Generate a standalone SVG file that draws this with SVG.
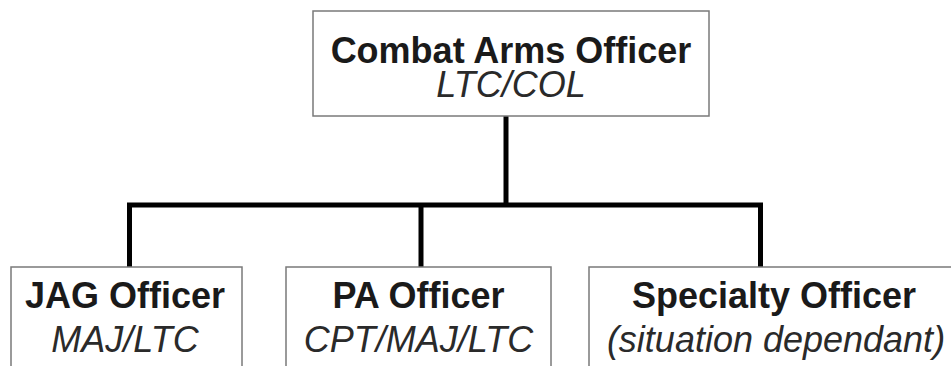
<svg xmlns="http://www.w3.org/2000/svg" width="951" height="366" viewBox="0 0 951 366">
<style>
.box{fill:#fff;stroke:#7a7a7a;stroke-width:1.5}
.t{font-family:"Liberation Sans",Arial,sans-serif;font-size:36px;text-anchor:middle;fill:#1a1a1a}
.b{font-weight:bold}
.i{font-style:italic;fill:#2a2a2a}
.c{stroke:#000;stroke-width:5;fill:none}
</style>
<rect width="951" height="366" fill="#fff"/>
<g id="connectors">
<path class="c" d="M506,116 V205"/>
<path class="c" d="M129.5,267 V205 H760.5 V267"/>
<path class="c" d="M421,205 V267"/>
</g>
<g id="combat">
<rect class="box" x="313" y="11" width="396" height="105"/>
<text class="t b" x="511" y="63">Combat Arms Officer</text>
<text class="t i" x="511" y="97">LTC/COL</text>
</g>
<g id="jag">
<rect class="box" x="11" y="267" width="231" height="110"/>
<text class="t b" x="125" y="308">JAG Officer</text>
<text class="t i" x="125" y="352">MAJ/LTC</text>
</g>
<g id="pa">
<rect class="box" x="286" y="267" width="265" height="110"/>
<text class="t b" x="418.5" y="308">PA Officer</text>
<text class="t i" x="418.5" y="352">CPT/MAJ/LTC</text>
</g>
<g id="specialty">
<rect class="box" x="589" y="267" width="375" height="110"/>
<text class="t b" x="774" y="308">Specialty Officer</text>
<text class="t i" x="776" y="352">(situation dependant)</text>
</g>
</svg>
